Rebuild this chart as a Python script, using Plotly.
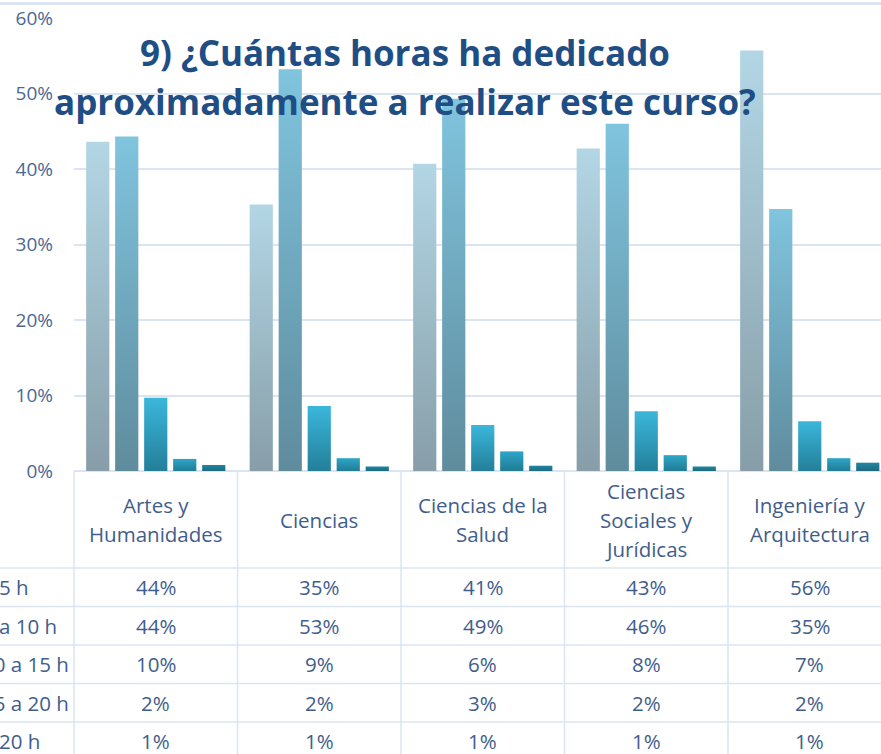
import plotly.graph_objects as go

# ---- data ----
categories = ["Artes y\nHumanidades", "Ciencias", "Ciencias de la\nSalud",
              "Ciencias\nSociales y\nJurídicas", "Ingeniería y\nArquitectura"]
series_names = ["< 5 h", "5 a 10 h", "10 a 15 h", "15 a 20 h", "> 20 h"]
s_lt5 = [0.436, 0.353, 0.407, 0.427, 0.557]
s_5_10 = [0.443, 0.532, 0.493, 0.460, 0.347]
s_10_15 = [0.097, 0.086, 0.061, 0.079, 0.066]
s_15_20 = [0.016, 0.017, 0.026, 0.021, 0.017]
s_gt20 = [0.008, 0.006, 0.007, 0.006, 0.011]
series_values = [s_lt5, s_5_10, s_10_15, s_15_20, s_gt20]
y_ticks = [0, 0.1, 0.2, 0.3, 0.4, 0.5, 0.6]
title_lines = ["9) ¿Cuántas horas ha dedicado", "aproximadamente a realizar este curso?"]

# ---- style ----
grad_top = ["#b3d6e5", "#80c4de", "#3bb7db", "#2ea6c8", "#2386a3"]
grad_bot = ["#879ea9", "#5f8c9d", "#237f99", "#207c95", "#1c6a80"]
W, H = 881, 754
ML, MR, MT = 74, 0, 18
ZERO_PX = 471
MB = H - ZERO_PX
PW = W - ML - MR
PH = ZERO_PX - MT
CAT_W = 163.5
x_lo = -0.5
x_hi = x_lo + PW / CAT_W
BARGAP = 0.113
GROUPGAP = 0.2
FONT = "Open Sans"
FS = 20.5
TXT = "#3f5e8c"
LINE = "#dae5f1"

def py(p):  # pixel y -> paper y
    return (ZERO_PX - p) / PH

def px(p):  # pixel x -> paper x
    return (p - ML) / PW

def cat_px(v):  # category coord -> pixel x
    return ML + (v - x_lo) * CAT_W

fig = go.Figure()
n_s = len(series_values)
group_w = 1 - BARGAP
slot = group_w / n_s
bar_w = slot * (1 - GROUPGAP)
for j, (name, vals) in enumerate(zip(series_names, series_values)):
    for i, v in enumerate(vals):
        xc = i - group_w / 2 + slot * (j + 0.5)
        xa, xb = xc - bar_w / 2, xc + bar_w / 2
        fig.add_trace(go.Scatter(
            x=[xa, xb, xb, xa, xa], y=[0, 0, v, v, 0],
            mode="none", fill="toself", name=name, hoverinfo="skip",
            fillgradient=dict(type="vertical", start=0, stop=v,
                              colorscale=[[0, grad_bot[j]], [1, grad_top[j]]]),
        ))

shapes = []
# top border line
shapes.append(dict(type="line", xref="paper", yref="paper", x0=px(0), x1=1,
                   y0=py(3.5), y1=py(3.5), line=dict(color="#d3e0f0", width=2.5)))
# table rows
row_tops = [568, 606.5, 645, 683.5, 722]
row_h = 38.5
for r in row_tops + [row_tops[-1] + row_h]:
    shapes.append(dict(type="line", xref="paper", yref="paper", x0=px(0), x1=1,
                       y0=py(r), y1=py(r), line=dict(color=LINE, width=1.5)))
# table columns
for i in range(len(categories)):
    xb = cat_px(i - 0.5)
    shapes.append(dict(type="line", xref="paper", yref="paper", x0=px(xb), x1=px(xb),
                       y0=0, y1=py(H + 5), line=dict(color=LINE, width=1.5)))

ann = []
# header labels
for i, cat in enumerate(categories):
    lines = cat.split("\n")
    n = len(lines)
    center = 519.5
    pitch = 29
    for k, ln in enumerate(lines):
        yc = center + (k - (n - 1) / 2) * pitch
        ann.append(dict(text=ln, xref="x", yref="paper", x=i, y=py(yc),
                        xanchor="center", yanchor="middle", showarrow=False,
                        font=dict(family=FONT, size=FS, color=TXT)))
# row labels and values
for r, (name, vals) in enumerate(zip(series_names, series_values)):
    yc = row_tops[r] + row_h / 2
    ann.append(dict(text=name, xref="paper", yref="paper", x=px(-20), y=py(yc),
                    xanchor="left", yanchor="middle", showarrow=False,
                    font=dict(family=FONT, size=FS, color=TXT)))
    for i, v in enumerate(vals):
        ann.append(dict(text=f"{round(v * 100)}%", xref="x", yref="paper", x=i, y=py(yc),
                        xanchor="center", yanchor="middle", showarrow=False,
                        font=dict(family=FONT, size=FS, color=TXT)))
# title
for k, (t, yc) in enumerate(zip(title_lines, [52, 101])):
    ann.append(dict(text=f"<b>{t}</b>", xref="paper", yref="paper", x=px(405), y=py(yc),
                    xanchor="center", yanchor="middle", showarrow=False,
                    font=dict(family=FONT, size=35, color="#1f4e85")))

fig.update_layout(
    width=W, height=H,
    margin=dict(l=ML, r=MR, t=MT, b=MB, pad=0),
    paper_bgcolor="white", plot_bgcolor="white",
    showlegend=False,
    shapes=shapes, annotations=ann,
    xaxis=dict(range=[x_lo, x_hi], showticklabels=False, showgrid=False,
               zeroline=False, showline=False, ticks=""),
    yaxis=dict(range=[0, 0.6], tickvals=y_ticks, tickformat=".0%",
               showgrid=True, gridcolor=LINE, gridwidth=1.5,
               zeroline=True, zerolinecolor=LINE, zerolinewidth=1.5,
               showline=False, ticks="", ticklabelstandoff=20,
               tickfont=dict(family=FONT, size=19, color="#4a6894")),
)

fig.write_html("out.html", config={"displayModeBar": False},
               post_script="document.body.style.margin='0';")
